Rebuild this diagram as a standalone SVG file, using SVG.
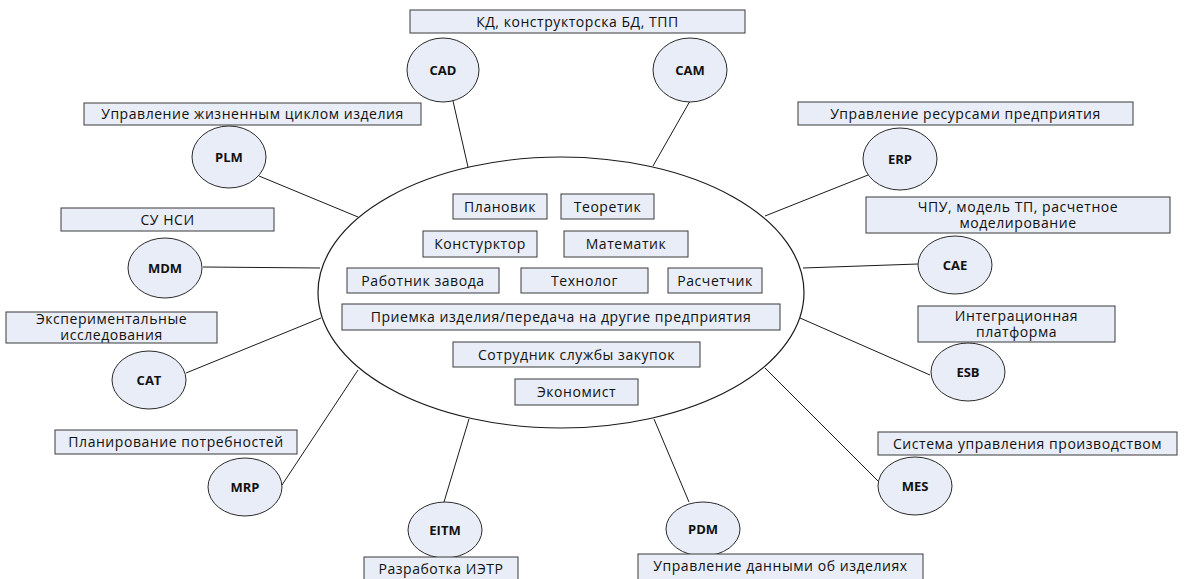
<svg xmlns="http://www.w3.org/2000/svg" width="1197" height="579" viewBox="0 0 1197 579">
<style>
.box{fill:#e8edf7;stroke:#3a3a3a;stroke-width:1}
.ell{fill:#e8edf7;stroke:#2a2a2a;stroke-width:1}
.big{fill:#ffffff;stroke:#1a1a1a;stroke-width:1.2}
.lbl{font-family:"Open Sans","Liberation Sans",sans-serif;font-size:14px;letter-spacing:0.55px;fill:#111;text-anchor:middle}
.sys{font-family:"Open Sans","Liberation Sans",sans-serif;font-size:13px;font-weight:bold;fill:#111;text-anchor:middle}
.con{stroke:#1a1a1a;stroke-width:1;fill:none}
</style>
<rect width="1197" height="579" fill="#ffffff"/>
<g id="connectors">
<line class="con" x1="453" y1="101" x2="468" y2="167"/>
<line class="con" x1="690" y1="101" x2="653" y2="166"/>
<line class="con" x1="259" y1="176" x2="358" y2="217"/>
<line class="con" x1="868" y1="175" x2="765" y2="216"/>
<line class="con" x1="203" y1="267" x2="320" y2="268"/>
<line class="con" x1="918" y1="264" x2="803" y2="268"/>
<line class="con" x1="186" y1="373" x2="321" y2="318"/>
<line class="con" x1="930" y1="375" x2="800" y2="318"/>
<line class="con" x1="282" y1="485" x2="358" y2="370"/>
<line class="con" x1="879" y1="482" x2="765" y2="368"/>
<line class="con" x1="444" y1="502" x2="469" y2="419"/>
<line class="con" x1="689" y1="502" x2="654" y2="419"/>
</g>
<g id="center">
<ellipse class="big" cx="561" cy="292.5" rx="243" ry="135.5"/>
</g>
<g id="r-planovik"><rect class="box" x="453" y="194" width="94" height="25"/><text class="lbl" x="500" y="211.5">Плановик</text></g>
<g id="r-teoretik"><rect class="box" x="561" y="194" width="93" height="25"/><text class="lbl" x="607.5" y="211.5">Теоретик</text></g>
<g id="r-konstruktor"><rect class="box" x="423" y="231" width="114" height="26"/><text class="lbl" x="480" y="249">Констурктор</text></g>
<g id="r-matematik"><rect class="box" x="564" y="231" width="124" height="26"/><text class="lbl" x="626" y="249">Математик</text></g>
<g id="r-rabotnik"><rect class="box" x="347" y="268" width="152" height="25"/><text class="lbl" x="423" y="285.5">Работник завода</text></g>
<g id="r-tehnolog"><rect class="box" x="521" y="268" width="127" height="25"/><text class="lbl" x="584.5" y="285.5">Технолог</text></g>
<g id="r-raschetchik"><rect class="box" x="668" y="268" width="94" height="25"/><text class="lbl" x="715" y="285.5">Расчетчик</text></g>
<g id="r-priemka"><rect class="box" x="342" y="304" width="438" height="26"/><text class="lbl" x="561" y="322">Приемка изделия/передача на другие предприятия</text></g>
<g id="r-sotrudnik"><rect class="box" x="453" y="342" width="247" height="25"/><text class="lbl" x="576.5" y="359.5">Сотрудник службы закупок</text></g>
<g id="r-ekonomist"><rect class="box" x="515" y="379" width="123" height="26"/><text class="lbl" x="576.5" y="397">Экономист</text></g>

<g id="n-cad-cam-label"><rect class="box" x="410" y="10" width="335" height="23"/><text class="lbl" x="577.5" y="26.5">КД, конструкторска БД, ТПП</text></g>
<g id="n-cad"><ellipse class="ell" cx="443" cy="70" rx="36" ry="32"/><text class="sys" x="443" y="74.5">CAD</text></g>
<g id="n-cam"><ellipse class="ell" cx="690" cy="70" rx="37" ry="32"/><text class="sys" x="690" y="74.5">CAM</text></g>

<g id="n-plm"><rect class="box" x="84" y="103" width="337" height="22"/><text class="lbl" x="252.5" y="119">Управление жизненным циклом изделия</text>
<ellipse class="ell" cx="229" cy="157" rx="37" ry="31"/><text class="sys" x="229" y="161.5">PLM</text></g>

<g id="n-erp"><rect class="box" x="798" y="102" width="335" height="23"/><text class="lbl" x="965.5" y="118.5">Управление ресурсами предприятия</text>
<ellipse class="ell" cx="900" cy="159" rx="37" ry="31"/><text class="sys" x="900" y="163.5">ERP</text></g>

<g id="n-mdm"><rect class="box" x="61" y="208" width="213" height="23"/><text class="lbl" x="167.5" y="224.5">СУ НСИ</text>
<ellipse class="ell" cx="165" cy="268" rx="37" ry="30"/><text class="sys" x="165" y="272.5">MDM</text></g>

<g id="n-cae"><rect class="box" x="866" y="197" width="304" height="36"/><text class="lbl" x="1018" y="212"><tspan x="1018" y="212">ЧПУ, модель ТП, расчетное</tspan><tspan x="1018" y="228">моделирование</tspan></text>
<ellipse class="ell" cx="955" cy="265" rx="37" ry="29"/><text class="sys" x="955" y="269.5">CAE</text></g>

<g id="n-cat"><rect class="box" x="6" y="312" width="211" height="31"/><text class="lbl" x="111.5" y="324"><tspan x="111.5" y="324">Экспериментальные</tspan><tspan x="111.5" y="340">исследования</tspan></text>
<ellipse class="ell" cx="149" cy="380" rx="37" ry="29"/><text class="sys" x="149" y="384.5">CAT</text></g>

<g id="n-esb"><rect class="box" x="918" y="306" width="197" height="36"/><text class="lbl" x="1016.5" y="321"><tspan x="1016.5" y="321">Интеграционная</tspan><tspan x="1016.5" y="337">платформа</tspan></text>
<ellipse class="ell" cx="968" cy="372" rx="37" ry="29"/><text class="sys" x="968" y="376.5">ESB</text></g>

<g id="n-mrp"><rect class="box" x="55" y="430" width="242" height="24"/><text class="lbl" x="176" y="447">Планирование потребностей</text>
<ellipse class="ell" cx="245" cy="487" rx="37" ry="29"/><text class="sys" x="245" y="491.5">MRP</text></g>

<g id="n-mes"><rect class="box" x="878" y="432" width="299" height="23"/><text class="lbl" x="1027.5" y="448.5">Система управления производством</text>
<ellipse class="ell" cx="915" cy="486" rx="37" ry="29"/><text class="sys" x="915" y="490.5">MES</text></g>

<g id="n-eitm"><ellipse class="ell" cx="445" cy="530" rx="37" ry="28"/><text class="sys" x="445" y="534.5">EITM</text>
<rect class="box" x="364" y="557" width="154" height="25"/><text class="lbl" x="441" y="573.5">Разработка ИЭТР</text></g>

<g id="n-pdm"><ellipse class="ell" cx="703" cy="529" rx="37" ry="27"/><text class="sys" x="703" y="533.5">PDM</text>
<rect class="box" x="638" y="554" width="285" height="28"/><text class="lbl" x="780.5" y="571">Управление данными об изделиях</text></g>
</svg>
